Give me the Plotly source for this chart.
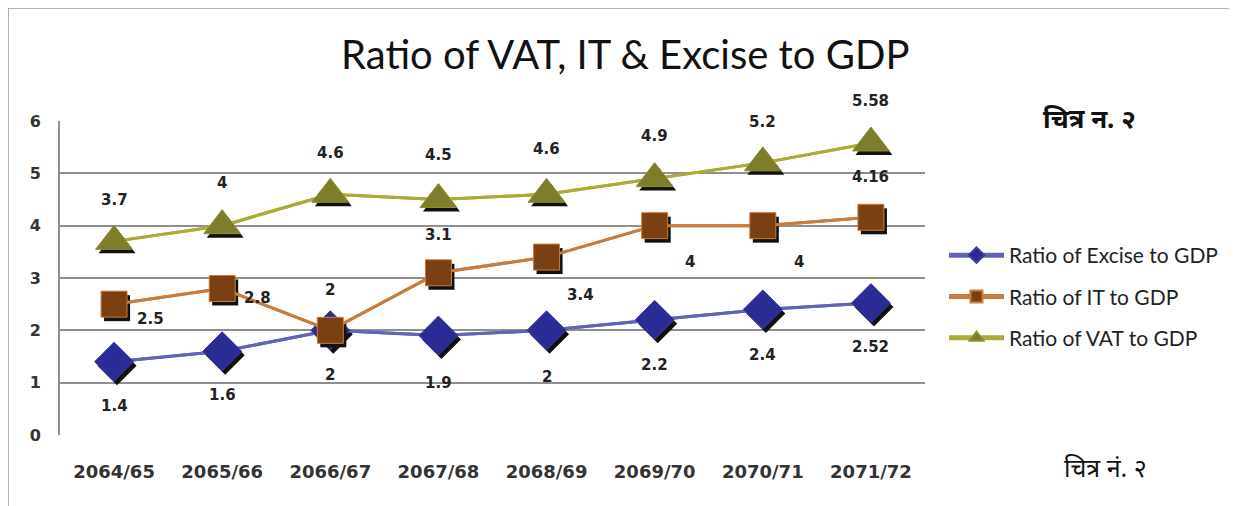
import plotly.graph_objects as go

years = ["2064/65", "2065/66", "2066/67", "2067/68", "2068/69", "2069/70", "2070/71", "2071/72"]
excise = [1.4, 1.6, 2, 1.9, 2, 2.2, 2.4, 2.52]
it = [2.5, 2.8, 2, 3.1, 3.4, 4, 4, 4.16]
vat = [3.7, 4, 4.6, 4.5, 4.6, 4.9, 5.2, 5.58]
excise_labels = ["1.4", "1.6", "2", "1.9", "2", "2.2", "2.4", "2.52"]
it_labels = ["2.5", "2.8", "2", "3.1", "3.4", "4", "4", "4.16"]
vat_labels = ["3.7", "4", "4.6", "4.5", "4.6", "4.9", "5.2", "5.58"]

# page body has an 8px margin; work in page pixels and convert
OFF = 8
W, H = 1237 - OFF, 506 - OFF
PL, PR, PT, PB = 60, 925, 121, 435  # plot area in page pixels
ML, MR, MT, MB = PL - OFF, W - (PR - OFF), PT - OFF, H - (PB - OFF)
pw = PR - PL
ph = PB - PT


def px(xp):
    return (xp - PL) / pw


def py(yp):
    return (PB - yp) / ph


xs = list(range(1, len(years) + 1))
xr = [0.5, len(years) + 0.5]
yr = [0, 6]
ux = pw / (xr[1] - xr[0])
uy = ph / (yr[1] - yr[0])

# label offsets in pixels (dx, dy, screen-down positive)
ex_off = [(0, 44), (0, 44), (0, 45), (0, 47), (0, 47), (0, 45), (0, 46), (0, 44)]
it_off = [(36, 15), (35, 10), (0, -40), (0, -38), (34, 38), (35, 36), (36, 36), (0, -40)]
vat_off = [(0, -41), (0, -43), (0, -41), (0, -45), (0, -45), (0, -43), (0, -41), (0, -42)]

series = [
    dict(name="Ratio of Excise to GDP", y=excise, lab=excise_labels, off=ex_off,
         line="#6363b5", mk="#2b2b96", edge="#3a3aa8", sym="diamond", size=30),
    dict(name="Ratio of IT to GDP", y=it, lab=it_labels, off=it_off,
         line="#c97d3c", mk="#7b3f14", edge="#c97d3c", sym="square", size=26),
    dict(name="Ratio of VAT to GDP", y=vat, lab=vat_labels, off=vat_off,
         line="#abab35", mk="#7d7d2c", edge="#8f8f30", sym="triangle-up", size=32),
]

LBL_FONT = dict(family="DejaVu Sans", size=15, color="#222222")

fig = go.Figure()
annotations = []
sdx = 3 / ux
sdy = 4 / uy
for i, s in enumerate(series):
    fig.add_trace(go.Scatter(
        x=xs, y=s["y"], mode="lines", line=dict(color=s["line"], width=3),
        showlegend=False, hoverinfo="skip"))
    fig.add_trace(go.Scatter(
        x=[v + sdx for v in xs], y=[v - sdy for v in s["y"]], mode="markers",
        marker=dict(symbol=s["sym"], size=s["size"], color="#111111", line=dict(width=0)),
        showlegend=False, hoverinfo="skip"))
    fig.add_trace(go.Scatter(
        x=xs, y=s["y"], mode="lines+markers", name=s["name"],
        line=dict(color=s["line"], width=3),
        marker=dict(symbol=s["sym"], size=s["size"], color=s["mk"],
                    line=dict(color=s["edge"], width=1)),
        legendgroup="g%d" % i))
    for xv, yv, t, (dx, dy) in zip(xs, s["y"], s["lab"], s["off"]):
        annotations.append(dict(
            x=xv, y=yv, xref="x", yref="y", text="<b>%s</b>" % t, showarrow=False,
            xanchor="center", yanchor="middle",
            xshift=dx, yshift=-dy, font=LBL_FONT))

annotations.append(dict(
    text="Ratio of VAT, IT & Excise to GDP", xref="paper", yref="paper",
    x=px(625), y=py(54), xanchor="center", yanchor="middle", showarrow=False,
    font=dict(family="Lato", size=40, color="#111111")))
annotations.append(dict(
    text="<b>चित्र न. २</b>", xref="paper", yref="paper",
    x=px(1089), y=py(118), xanchor="center", yanchor="middle", showarrow=False,
    font=dict(family="Noto Sans, DejaVu Sans", size=26, color="#111111")))
annotations.append(dict(
    text="चित्र नं. २", xref="paper", yref="paper",
    x=px(1105), y=py(467), xanchor="center", yanchor="middle", showarrow=False,
    font=dict(family="Noto Sans, DejaVu Sans", size=25, color="#111111")))

shapes = [dict(
    type="rect", xref="paper", yref="paper",
    x0=px(8), x1=px(1233), y0=py(530), y1=py(8),
    line=dict(color="#9a9a9a", width=1.5), fillcolor="rgba(0,0,0,0)", layer="below")]

fig.update_layout(
    width=W, height=H,
    margin=dict(l=ML, r=MR, t=MT, b=MB),
    paper_bgcolor="white", plot_bgcolor="white",
    annotations=annotations, shapes=shapes,
    legend=dict(xref="container", yref="container", x=(944 - OFF) / W, y=1 - (235 - OFF) / H,
                xanchor="left", yanchor="top", tracegroupgap=11, itemwidth=55,
                itemsizing="constant",
                font=dict(family="Lato", size=21, color="#222222"),
                bgcolor="rgba(0,0,0,0)"),
    xaxis=dict(range=xr, tickvals=xs, ticktext=["<b>%s</b>" % y for y in years],
               showgrid=False, zeroline=False,
               ticks="outside", ticklen=20, tickcolor="rgba(0,0,0,0)",
               tickfont=dict(family="DejaVu Sans", size=18, color="#333333"), fixedrange=True),
    yaxis=dict(range=yr, dtick=1, showgrid=True, gridcolor="#8f8f8f", gridwidth=2,
               zeroline=False, showline=True, linecolor="#8f8f8f", linewidth=2,
               ticks="outside", ticklen=14, tickcolor="rgba(0,0,0,0)",
               tickvals=list(range(7)), ticktext=["<b>%d</b>" % v for v in range(7)],
               tickfont=dict(family="DejaVu Sans", size=16, color="#333333"), fixedrange=True),
)

fig.write_html("out.html")
